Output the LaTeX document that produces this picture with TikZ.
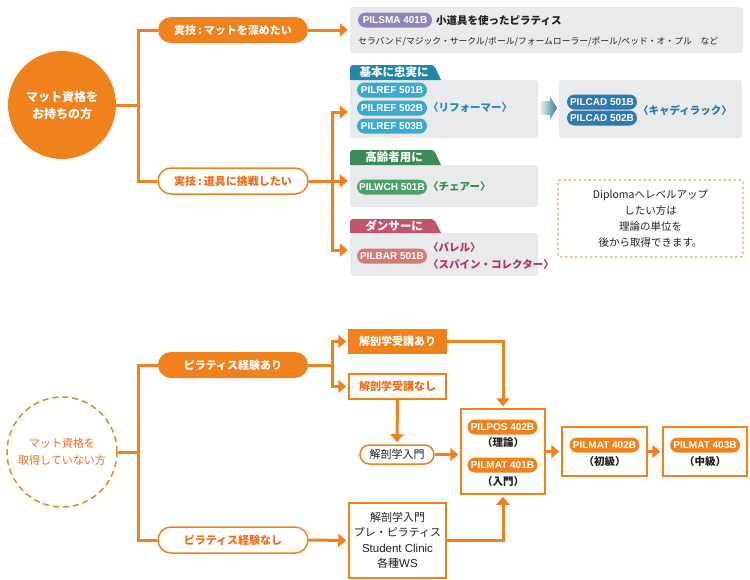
\documentclass[tikz,border=0pt]{standalone}
\usepackage{fontspec}
\setmainfont{Noto Sans CJK JP}
\newfontfamily\lat{Liberation Sans}
\usetikzlibrary{arrows.meta,calc}
\definecolor{og}{RGB}{240,130,30}
\definecolor{ogt}{RGB}{236,110,25}
\definecolor{gbg}{RGB}{233,234,236}
\definecolor{ink}{RGB}{35,30,28}
\definecolor{purp}{RGB}{140,135,184}
\definecolor{cyanp}{RGB}{60,170,208}
\definecolor{bluep}{RGB}{45,122,176}
\definecolor{tealtab}{RGB}{35,135,170}
\definecolor{greentab}{RGB}{60,138,85}
\definecolor{greenp}{RGB}{80,158,106}
\definecolor{rosetab}{RGB}{192,86,110}
\definecolor{salmonp}{RGB}{212,122,118}
\definecolor{reftxt}{RGB}{40,134,176}
\definecolor{cadtxt}{RGB}{42,118,166}
\definecolor{chtxt}{RGB}{55,135,80}
\definecolor{bartxt}{RGB}{180,50,85}
\begin{document}
\begin{tikzpicture}[x=1pt,y=-1pt,
  oline/.style={draw=og,line width=3},
  arr/.style={oline,-{Triangle[length=8,width=13]},shorten >=2},
  bigcirc/.style={circle,minimum size=108,inner sep=0,align=center},
  pill/.style={rounded corners=13,minimum width=150,minimum height=26,inner sep=0,
    font=\bfseries\fontsize{11}{13}\selectfont},
  pillO/.style={pill,fill=og,text=white},
  pillW/.style={pill,fill=white,draw=og,line width=1.5,text=ogt},
  code/.style={rounded corners=7.5,minimum width=70,minimum height=15,inner sep=0,
    text=white,font=\lat\bfseries\fontsize{10}{11}\selectfont},
  gbox/.style={fill=gbg,rounded corners=3,inner sep=0},
  tabtxt/.style={text=white,font=\bfseries\fontsize{11.5}{13}\selectfont},
  lbl/.style={font=\bfseries\fontsize{10.5}{12}\selectfont,anchor=west,inner sep=0},
  obox/.style={draw=og,line width=1.5,fill=white,inner sep=0},
  dk/.style={text=ink,font=\fontsize{11}{13}\selectfont},
  lvl/.style={text=ink,font=\bfseries\fontsize{10.5}{12}\selectfont}
]
\useasboundingbox (0,0) rectangle (750,579);

% ---------- upper part ----------
\node[bigcirc,fill=og,text=white,font=\bfseries\fontsize{12}{17}\selectfont] (c1) at (62,105) {マット資格を\\お持ちの方};
\node[pillO] (p1) at (233,30) {実技\,:\,マットを深めたい};
\node[pillW] (p2) at (233,181) {実技\,:\,道具に挑戦したい};
\draw[oline] (c1.east) -- (138,105) coordinate (j1) |- (p1.west);
\draw[oline] (j1) |- (p2.west);

% gray boxes
\node[gbox,minimum width=393,minimum height=46] (g1) at (546.5,30) {};
\node[gbox,minimum width=188,minimum height=58] (g2) at (444,109) {};
\node[gbox,minimum width=188,minimum height=42] (g3) at (444,186) {};
\node[gbox,minimum width=188,minimum height=43] (g4) at (444,254.5) {};
\node[gbox,minimum width=183,minimum height=58] (g5) at (650.5,109) {};

\draw[arr] (p1.east) -- (g1.west);
\draw[oline] (p2.east) -- (332,181) coordinate (j2);
\draw[arr] (j2) |- ([yshift=-3pt]g2.west);
\draw[arr] (j2) -- ([yshift=5pt]g3.west);
\draw[arr] (j2) |- ([yshift=4.5pt]g4.west);

% tabs
\fill[tealtab] (350,80) [rounded corners=3] -- (350,65) -- (434,65) [sharp corners] -- (441,80) -- cycle;
\node[tabtxt] (t1) at (394,72.5) {基本に忠実に};
\fill[greentab] (350,165) [rounded corners=3] -- (350,150) -- (434,150) [sharp corners] -- (441,165) -- cycle;
\node[tabtxt] (t2) at (394,157.5) {高齢者用に};
\fill[rosetab] (350,233) [rounded corners=3] -- (350,219) -- (434,219) [sharp corners] -- (441,233) -- cycle;
\node[tabtxt] (t3) at (394,226) {ダンサーに};

% box 1
\node[code,fill=purp,minimum width=74] (k1) at (395,20) {PILSMA 401B};
\node[lbl,text=ink] (n1) at (436,20) {小道具を使ったピラティス};
\node[anchor=west,inner sep=0,text=ink,font=\fontsize{8.8}{10}\selectfont] (n1b) at (358,42) {セラバンド/マジック・サークル/ボール/フォームローラー/ポール/ペッド・オ・プル　など};

% box 2
\node[code,fill=cyanp] (k2) at (392,90) {PILREF 501B};
\node[code,fill=cyanp] (k3) at (392,108) {PILREF 502B};
\node[code,fill=cyanp] (k4) at (392,126) {PILREF 503B};
\node[lbl,text=reftxt] (n2) at (428,108) {〈リフォーマー〉};

% gradient arrow
\shade[left color=gbg!60!white,right color=cyanp!75!black] (540,101) -- (550,101) -- (550,96) -- (557,108) -- (550,120) -- (550,115) -- (540,115) -- cycle;

% box 5
\node[code,fill=bluep] (k5) at (602,102) {PILCAD 501B};
\node[code,fill=bluep] (k6) at (602,118) {PILCAD 502B};
\node[lbl,text=cadtxt] (n5) at (638,110) {〈キャディラック〉};

% box 3
\node[code,fill=greenp] (k7) at (392,187) {PILWCH 501B};
\node[lbl,text=chtxt] (n3) at (428,187) {〈チェアー〉};

% box 4
\node[code,fill=salmonp] (k8) at (392,256) {PILBAR 501B};
\node[lbl,text=bartxt] (n4a) at (428,247) {〈バレル〉};
\node[lbl,text=bartxt] (n4b) at (428,264) {〈スパイン・コレクター〉};

% dashed note
\node[draw=og!75,line width=1.2,dash pattern=on 2.5pt off 2.5pt,rounded corners=2,
  minimum width=185,minimum height=77,inner sep=0,align=center,text=ink,
  font=\fontsize{10.5}{16}\selectfont] (note) at (650.5,218.5)
  {Diplomaへレベルアップ\\したい方は\\理論の単位を\\後から取得できます。};

% ---------- lower part ----------
\node[bigcirc,minimum size=110,draw=og,line width=1.5,dash pattern=on 6pt off 4pt,fill=white,text=ogt,
  font=\fontsize{11}{17}\selectfont] (c2) at (62,452) {マット資格を\\取得していない方};
\node[pillO] (p3) at (233,365) {ピラティス経験あり};
\node[pillW] (p4) at (233,540) {ピラティス経験なし};
\draw[oline] (c2.east) -- (138,452) coordinate (j3) |- (p3.west);
\draw[oline] (j3) |- (p4.west);

\node[obox,fill=og,text=white,minimum width=97,minimum height=23,font=\bfseries\fontsize{11}{13}\selectfont] (b1) at (397.5,341.5) {解剖学受講あり};
\node[obox,text=ogt,minimum width=97,minimum height=25,font=\bfseries\fontsize{11}{13}\selectfont] (b2) at (397.5,386.5) {解剖学受講なし};
\draw[oline] (p3.east) -- (332,365) coordinate (j4);
\draw[arr] (j4) |- (b1.west);
\draw[arr] (j4) |- (b2.west);

\node[obox,rounded corners=9.5,minimum width=74,minimum height=19,dk] (p5) at (397,454.5) {解剖学入門};
\draw[arr] (b2.south) -- (p5.north);

\node[obox,minimum width=97,minimum height=75,dk,align=center,font=\fontsize{11}{15.5}\selectfont] (b3) at (397.5,540.5)
  {解剖学入門\\プレ・ピラティス\\{\lat\fontsize{11.5}{15.5}\selectfont Student Clinic}\\各種{\lat\fontsize{11.5}{15.5}\selectfont WS}};
\draw[arr] (p4.east) -- (b3.west);

\node[obox,minimum width=84,minimum height=85] (B) at (503,451.5) {};
\node[code,fill=og] (q1) at (502.5,427) {PILPOS 402B};
\node[lvl] (q1t) at (503,443) {（理論）};
\node[code,fill=og] (q2) at (502.5,465) {PILMAT 401B};
\node[lvl] (q2t) at (503,482) {（入門）};

\draw[arr] (b1.east) -| (B.north);
\draw[arr] (p5.east) -- (B.west |- p5.east);
\draw[arr] (b3.east) -| (B.south);

\node[obox,minimum width=85,minimum height=49] (B2) at (604.5,451.5) {};
\node[code,fill=og] (q3) at (604.5,445) {PILMAT 402B};
\node[lvl] (q3t) at (604.5,462) {（初級）};
\node[obox,minimum width=84,minimum height=49] (B3) at (705,451.5) {};
\node[code,fill=og] (q4) at (705,445) {PILMAT 403B};
\node[lvl] (q4t) at (705,462) {（中級）};

\draw[arr] (B.east |- B2.west) -- (B2.west);
\draw[arr] (B2.east) -- (B3.west);
\end{tikzpicture}
\end{document}
